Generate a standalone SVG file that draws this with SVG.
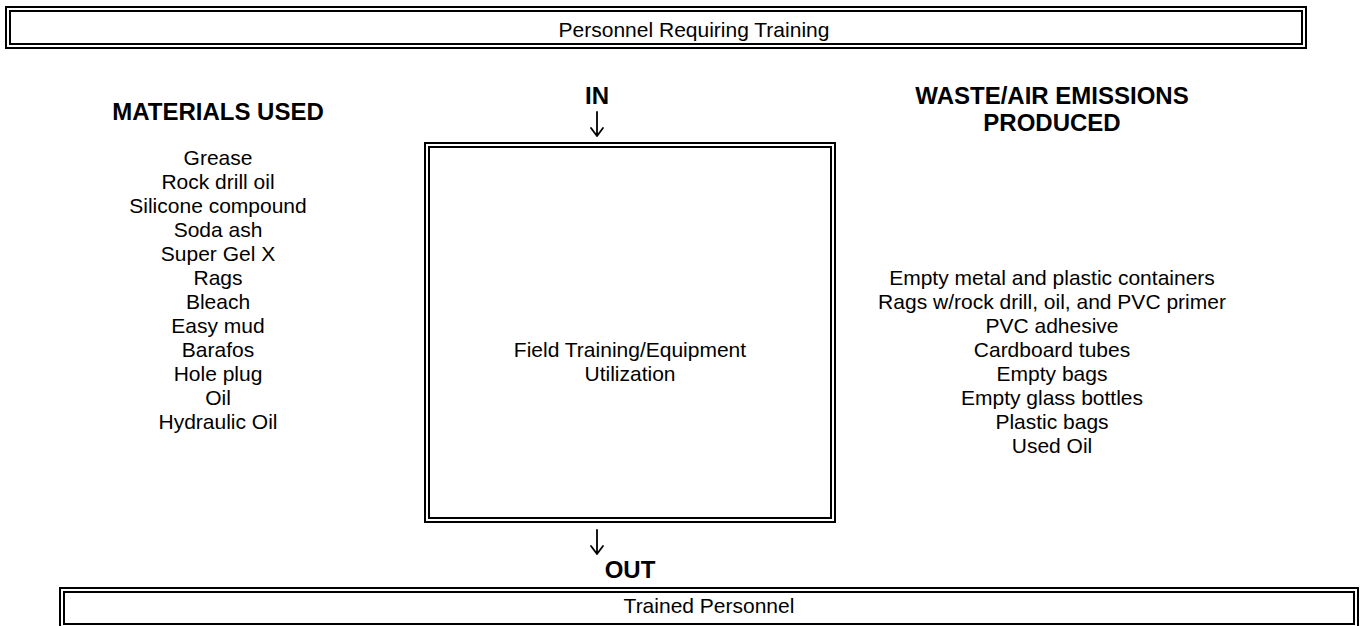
<svg xmlns="http://www.w3.org/2000/svg" width="1360" height="626" viewBox="0 0 1360 626">
  <style>
    .frame { fill: none; stroke: #000; stroke-width: 2; }
    text { font-family: "Liberation Sans", Arial, sans-serif; fill: #000; text-anchor: middle; }
    .body { font-size: 21px; }
    .head { font-size: 24px; font-weight: bold; }
    .flow { fill: none; stroke: #000; stroke-width: 1.8; stroke-linecap: round; stroke-linejoin: round; }
  </style>
  <defs>
    <!-- thin downward flow arrow, drawn about its own origin -->
    <path id="down-arrow" class="flow" d="M0,0 V24 M-6,16 L0,24 L6,16"/>
  </defs>
  <rect width="1360" height="626" fill="#fff"/>

  <!-- input banner -->
  <g id="node-input">
    <rect class="frame" x="6" y="7" width="1300" height="41"/>
    <rect class="frame" x="10" y="11" width="1292" height="33"/>
    <text class="body" x="694" y="37">Personnel Requiring Training</text>
  </g>

  <!-- materials column -->
  <g id="node-materials">
    <text class="head" x="218" y="120">MATERIALS USED</text>
    <text class="body" x="218" y="165">Grease</text>
    <text class="body" x="218" y="189">Rock drill oil</text>
    <text class="body" x="218" y="213">Silicone compound</text>
    <text class="body" x="218" y="237">Soda ash</text>
    <text class="body" x="218" y="261">Super Gel X</text>
    <text class="body" x="218" y="285">Rags</text>
    <text class="body" x="218" y="309">Bleach</text>
    <text class="body" x="218" y="333">Easy mud</text>
    <text class="body" x="218" y="357">Barafos</text>
    <text class="body" x="218" y="381">Hole plug</text>
    <text class="body" x="218" y="405">Oil</text>
    <text class="body" x="218" y="429">Hydraulic Oil</text>
  </g>

  <!-- process box -->
  <g id="node-process">
    <rect class="frame" x="425" y="143" width="410" height="379"/>
    <rect class="frame" x="429" y="147" width="402" height="371"/>
    <text class="body" x="630" y="357">Field Training/Equipment</text>
    <text class="body" x="630" y="381">Utilization</text>
  </g>

  <!-- waste column -->
  <g id="node-waste">
    <text class="head" x="1052" y="104">WASTE/AIR EMISSIONS</text>
    <text class="head" x="1052" y="131">PRODUCED</text>
    <text class="body" x="1052" y="285">Empty metal and plastic containers</text>
    <text class="body" x="1052" y="309">Rags w/rock drill, oil, and PVC primer</text>
    <text class="body" x="1052" y="333">PVC adhesive</text>
    <text class="body" x="1052" y="357">Cardboard tubes</text>
    <text class="body" x="1052" y="381">Empty bags</text>
    <text class="body" x="1052" y="405">Empty glass bottles</text>
    <text class="body" x="1052" y="429">Plastic bags</text>
    <text class="body" x="1052" y="453">Used Oil</text>
  </g>

  <!-- output banner -->
  <g id="node-output">
    <rect class="frame" x="60" y="588" width="1298" height="40"/>
    <rect class="frame" x="64" y="592" width="1290" height="32"/>
    <text class="body" x="709" y="613">Trained Personnel</text>
  </g>

  <!-- flow markers -->
  <g id="connectors">
    <text class="head" x="597" y="104">IN</text>
    <use href="#down-arrow" x="597" y="112"/>
    <use href="#down-arrow" x="597" y="530"/>
    <text class="head" x="630" y="578">OUT</text>
  </g>
</svg>
